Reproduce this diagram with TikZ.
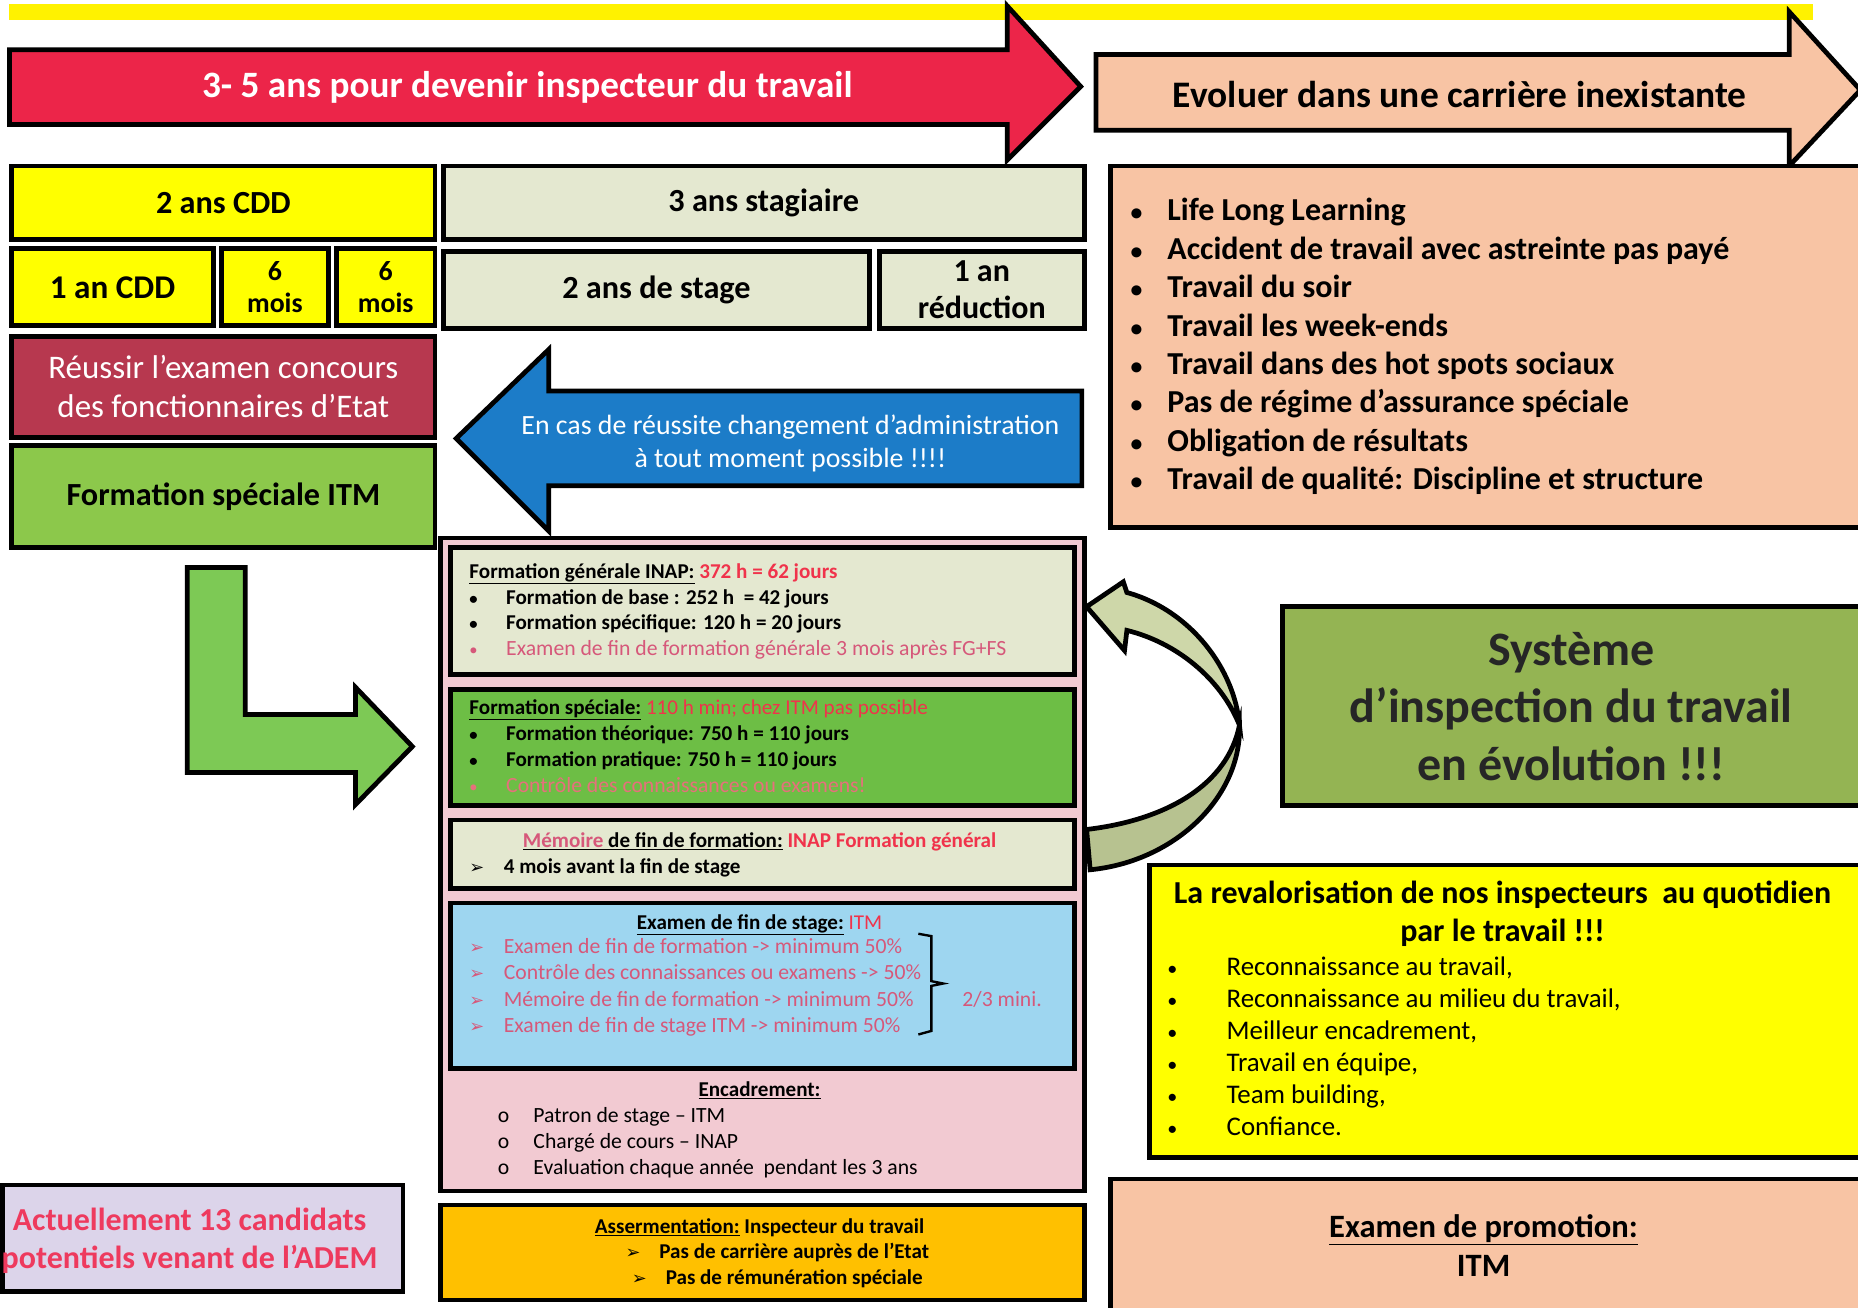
\documentclass[tikz,border=0pt]{standalone}
\usepackage{fontspec}
\setmainfont{Carlito}
\newfontfamily\symfont{DejaVu Sans}
\usetikzlibrary{positioning}

\definecolor{barjaune}{HTML}{FFF200}
\definecolor{flecherouge}{HTML}{EC2549}
\definecolor{peche}{HTML}{F8C4A4}
\definecolor{jaune}{HTML}{FFFF00}
\definecolor{clair}{HTML}{E4E8D0}
\definecolor{bordeaux}{HTML}{B7384F}
\definecolor{vertitm}{HTML}{8CC84B}
\definecolor{bleu}{HTML}{1C7CC8}
\definecolor{rose}{HTML}{F2CAD2}
\definecolor{vertfs}{HTML}{6DBE45}
\definecolor{bleuclair}{HTML}{9ED6F0}
\definecolor{orange}{HTML}{FFC000}
\definecolor{lavande}{HTML}{DCD4EA}
\definecolor{olive}{HTML}{94B453}
\definecolor{vertL}{HTML}{7DC955}
\definecolor{courbeA}{HTML}{CED7A9}
\definecolor{courbeB}{HTML}{B7C290}
\definecolor{txtrouge}{HTML}{F0334B}
\definecolor{txtrose}{HTML}{D6587A}
\definecolor{txtsaumon}{HTML}{E6707C}
\definecolor{txtadem}{HTML}{EE3A5E}

\newcommand{\fsz}[2]{\fontsize{#1}{#2}\selectfont}
\newcommand{\fleche}{{\symfont\fsz{15}{18}➢}}
\newcommand{\puce}[1]{\makebox[#1][l]{\fsz{14}{16}\textbullet}}

\tikzset{
  cell/.style={draw=black, line width=4pt, inner sep=0pt, align=center, anchor=north west},
  shapeline/.style={draw=black, line width=4pt, line join=miter},
  cline/.style={anchor=west, inner sep=0pt, text height=16pt, text depth=2pt, font=\fsz{17.8}{21}\bfseries},
  cnorm/.style={cline, font=\fsz{18.3}{21}},
  peachitem/.style={anchor=west, inner sep=0pt, text height=23pt, text depth=4pt, font=\fsz{27}{31}\bfseries},
  yellowitem/.style={anchor=west, inner sep=0pt, text height=20pt, text depth=4pt, font=\fsz{22.7}{26}},
}

\begin{document}
\begin{tikzpicture}[x=1pt,y=-1pt]
\useasboundingbox (0,0) rectangle (1568,1103);

% bandeau et fleches du haut
\fill[barjaune] (8,3) rectangle (1530,17);
\draw[shapeline, fill=flecherouge] (8,42) -- (850,42) -- (850,5) -- (912,73) -- (850,135) -- (850,105) -- (8,105) -- cycle;
\node[text=white, font=\fsz{31.4}{36}\bfseries] (duree) at (445,74) {3- 5 ans pour devenir inspecteur du travail};
\draw[shapeline, fill=peche] (925,46) -- (1510,46) -- (1510,10) -- (1570,76) -- (1510,140) -- (1510,110) -- (925,110) -- cycle;
\node[font=\fsz{31.6}{36}\bfseries] (carriere) at (1232,80) {Evoluer dans une carrière inexistante};

% colonne de gauche
\node[cell, fill=jaune, minimum width=357, minimum height=62, font=\fsz{27.2}{31}\bfseries] (cdd2) at (8,138) {2 ans CDD};
\node[cell, fill=jaune, minimum width=170, minimum height=65, font=\fsz{28}{31}\bfseries] (cdd1) at (8,208) {1 an CDD};
\node[cell, fill=jaune, minimum width=90, minimum height=65, font=\fsz{23.5}{27}\bfseries] (mois1) at (185,208) {6\\mois};
\node[cell, fill=jaune, minimum width=83, minimum height=65, font=\fsz{23.5}{27}\bfseries] (mois2) at (282,208) {6\\mois};
\node[cell, fill=bordeaux, text=white, minimum width=357, minimum height=85, font=\fsz{27.8}{33}] (concours) at (8,282) {Réussir l’examen concours\\des fonctionnaires d’Etat};
\node[cell, fill=vertitm, minimum width=357, minimum height=86, font=\fsz{27.2}{31}\bfseries] (formitm) at (8,374) {Formation spéciale ITM};

% stage
\node[cell, fill=clair, minimum width=541, minimum height=62, font=\fsz{27.2}{31}\bfseries] (stag3) at (372,138) {3 ans stagiaire};
\node[cell, fill=clair, minimum width=360, minimum height=65, font=\fsz{27.2}{31}\bfseries] (stage2) at (372,210) {2 ans de stage};
\node[cell, fill=clair, minimum width=173, minimum height=65, font=\fsz{27}{32}\bfseries] (reduc) at (740,210) {1 an\\réduction};

\draw[shapeline, fill=bleu] (913,330) -- (463,330) -- (463,295) -- (385,370) -- (463,448) -- (463,410) -- (913,410) -- cycle;
\node[text=white, align=center, font=\fsz{23.5}{28}] (changement) at (667,374) {En cas de réussite changement d’administration\\à tout moment possible !!!!};

\draw[shapeline, fill=vertL] (158,479) -- (207,479) -- (207,603) -- (300,603) -- (300,580) -- (348,630) -- (300,679) -- (300,652) -- (158,652) -- cycle;

% cursus
\node[cell, fill=rose, minimum width=543, minimum height=551] (cursus) at (370,452) {};
\node[cell, fill=clair, minimum width=527, minimum height=107] (fgen) at (378,460) {};
\node[cell, fill=vertfs, minimum width=527, minimum height=98] (fspec) at (378,580) {};
\node[cell, fill=clair, minimum width=527, minimum height=58] (memoire) at (378,690) {};
\node[cell, fill=bleuclair, minimum width=527, minimum height=140] (exstage) at (378,760) {};

\node[cline] (fg0) at (396,481) {\underline{Formation générale INAP:} {\color{txtrouge}372 h = 62 jours}};
\node[cline] (fg1) at (396,503) {\puce{31pt}Formation de base : 252 h\ \ = 42 jours};
\node[cline] (fg2) at (396,524) {\puce{31pt}Formation spécifique: 120 h = 20 jours};
\node[cnorm, text=txtrose] (fg3) at (396,546) {\puce{31pt}Examen de fin de formation générale 3 mois après FG+FS};

\node[cline] (fs0) at (396,596) {\underline{Formation spéciale:} {\mdseries\color{txtrouge}110 h min; chez ITM pas possible}};
\node[cline] (fs1) at (396,618) {\puce{31pt}Formation théorique: 750 h = 110 jours};
\node[cline] (fs2) at (396,640) {\puce{31pt}Formation pratique: 750 h = 110 jours};
\node[cnorm, text=txtsaumon] (fs3) at (396,662) {\puce{31pt}Contrôle des connaissances ou examens!};

\node[cline, anchor=center] (me0) at (641,708) {\underline{{\color{txtrose}Mémoire} de fin de formation:} {\color{txtrouge}INAP Formation général}};
\node[cline] (me1) at (396,730) {\makebox[29pt][l]{\fleche}4 mois avant la fin de stage};

\node[cline, anchor=center] (ex0) at (641,777) {\underline{Examen de fin de stage:} {\mdseries\color{txtrouge}ITM}};
\foreach \t [count=\i from 0] in {Examen de fin de formation -> minimum 50\%,
    Contrôle des connaissances ou examens -> 50\%,
    Mémoire de fin de formation -> minimum 50\%,
    Examen de fin de stage ITM -> minimum 50\%}
  \node[cnorm, text=txtrose] (ex\i) at (396,{798+22*\i}) {\makebox[29pt][l]{\fleche}\t};
\draw[line width=2pt] (775,788) -- (786,790) -- (786,828) -- (796,830) -- (786,832) -- (786,870) -- (775,873);
\node[cnorm, text=txtrose] (tiers) at (812,842) {2/3 mini.};

\node[cline, anchor=center] (enc0) at (641,918) {\underline{Encadrement:}};
\foreach \t [count=\i from 1] in {Patron de stage – ITM, Chargé de cours – INAP, Evaluation chaque année\ \ pendant les 3 ans}
  \node[cnorm] (enc\i) at (420,{918+22*\i}) {\makebox[30pt][l]{o}\t};

\node[cell, fill=orange, minimum width=543, minimum height=80] (serment) at (370,1015) {};
\node[cline, anchor=center] (as0) at (641,1034) {\underline{Assermentation:} Inspecteur du travail};
\node[cline, anchor=center] (as1) at (656,1055) {\fleche\hspace{16pt}Pas de carrière auprès de l’Etat};
\node[cline, anchor=center] (as2) at (656,1077) {\fleche\hspace{16pt}Pas de rémunération spéciale};

\node[cell, fill=lavande, minimum width=338, minimum height=90] (adem) at (0,998) {};
\node[text=txtadem, align=center, inner sep=0pt, font=\fsz{27}{32}\bfseries] (ademtxt) at (160,1047) {Actuellement 13 candidats\\potentiels venant de l’ADEM};

% colonne de droite
\node[cell, fill=peche, minimum width=633, minimum height=305] (contraintes) at (935,138) {};
\foreach \t [count=\i from 0] in {Life Long Learning, Accident de travail avec astreinte pas payé,
    Travail du soir, Travail les week-ends, Travail dans des hot spots sociaux,
    Pas de régime d’assurance spéciale, Obligation de résultats,
    Travail de qualité: Discipline et structure}
  \node[peachitem] (pc\i) at (954,{177+32.4*\i}) {\makebox[31pt][l]{\fsz{20}{24}\textbullet}\t};

\fill[courbeA, draw=black, line width=4pt, line join=miter] (951,500) .. controls (1005,515) and (1042,565) .. (1046,612)
  .. controls (1030,572) and (992,542) .. (951,532) -- (949,549) -- (917,512) -- (948,491) -- cycle;
\fill[courbeB, draw=black, line width=4pt, line join=miter] (1046,612) .. controls (1048,672) and (992,727) .. (920,734)
  -- (917,700) .. controls (985,692) and (1036,662) .. (1046,612) -- cycle;

\node[cell, fill=olive, minimum width=488, minimum height=168, font=\fsz{40.5}{48.5}\bfseries, text=black!85] (systeme) at (1080,510) {Système\\d’inspection du travail\\en évolution !!!};

\node[cell, fill=jaune, minimum width=600, minimum height=247] (revalo) at (968,728) {};
\node[font=\fsz{27}{32}\bfseries, align=center, inner sep=0pt] (revalo0) at (1268,771) {La revalorisation de nos inspecteurs\ \ au quotidien\\par le travail !!!};
\foreach \t [count=\i from 0] in {{Reconnaissance au travail,}, {Reconnaissance au milieu du travail,},
    {Meilleur encadrement,}, {Travail en équipe,}, {Team building,}, {Confiance.}}
  \node[yellowitem] (rv\i) at (985,{815+27*\i}) {\makebox[50pt][l]{\fsz{17}{20}\textbullet}\t};

\node[cell, fill=peche, minimum width=633, minimum height=112] (promotion) at (935,993) {};
\node[font=\fsz{27.5}{33}\bfseries, align=center, inner sep=0pt] (promo0) at (1252,1051) {\underline{Examen de promotion:}\\ITM};
\end{tikzpicture}
\end{document}
